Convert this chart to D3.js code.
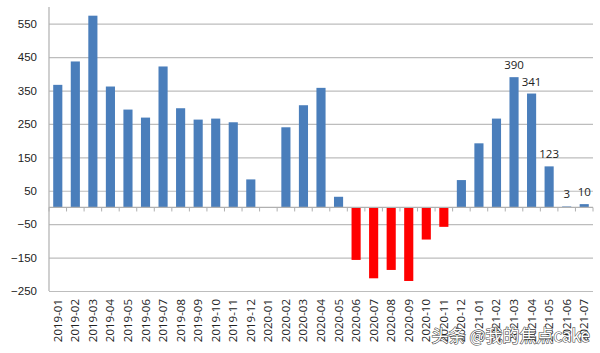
<!DOCTYPE html>
<html>
<head>
<meta charset="utf-8">
<script src="https://cdn.jsdelivr.net/npm/d3@7"></script>
<style>
  body { margin: 0; background: #fff; }
  svg { display: block; }
</style>
</head>
<body>
<div id="chart"></div>
<script>
// monthly values, 2019-01 .. 2021-07
var months = ["2019-01","2019-02","2019-03","2019-04","2019-05","2019-06","2019-07","2019-08",
  "2019-09","2019-10","2019-11","2019-12","2020-01","2020-02","2020-03","2020-04","2020-05",
  "2020-06","2020-07","2020-08","2020-09","2020-10","2020-11","2020-12","2021-01","2021-02",
  "2021-03","2021-04","2021-05","2021-06","2021-07"];
var values = [367, 437, 574, 362, 293, 269, 422, 297, 263, 266, 255, 84, 0, 240, 306, 358, 32,
  -157, -212, -187, -220, -96, -58, 82, 192, 266, 390, 341, 123, 3, 10];
var labelled = ["2021-03","2021-04","2021-05","2021-06","2021-07"];
var yTicks = [-250, -150, -50, 50, 150, 250, 350, 450, 550];

var W = 600, H = 353;
var margin = {top: 7, right: 7, bottom: 62, left: 49};
var width = W - margin.left - margin.right;
var height = H - margin.top - margin.bottom;

var svg = d3.select("#chart").append("svg")
    .attr("width", W)
    .attr("height", H)
    .style("font-family", "'Open Sans', sans-serif");

var g = svg.append("g")
    .attr("transform", "translate(" + margin.left + "," + margin.top + ")");

var x = d3.scaleBand().domain(months).range([0, width]).paddingInner(0.48).paddingOuter(0.24);
var y = d3.scaleLinear().domain([-250, 600]).range([height, 0]);
var step = x.step();

// gridlines + y labels
var yAxis = d3.axisLeft(y).tickValues(yTicks).tickSize(-width).tickPadding(12);
g.append("g")
    .call(yAxis)
    .call(function(a) {
      a.select(".domain").remove();
      a.selectAll("line").attr("stroke", "#bdbdbd").attr("stroke-width", 1.2);
      a.selectAll("text").attr("fill", "#222").style("font-size", "11.5px");
    });

// y axis line
g.append("line")
    .attr("x1", 0).attr("x2", 0)
    .attr("y1", 0).attr("y2", height)
    .attr("stroke", "#b0b0b0").attr("stroke-width", 1.2);

// bars
g.selectAll("rect.bar").data(values).enter().append("rect")
    .attr("class", "bar")
    .attr("x", function(d, i) { return x(months[i]); })
    .attr("width", x.bandwidth())
    .attr("y", function(d) { return y(Math.max(0, d)); })
    .attr("height", function(d) { return Math.abs(y(d) - y(0)); })
    .attr("fill", function(d) { return d < 0 ? "#ff0000" : "#4a7ebb"; });

// category axis on zero line
g.append("line")
    .attr("x1", 0).attr("x2", width)
    .attr("y1", y(0)).attr("y2", y(0))
    .attr("stroke", "#b0b0b0").attr("stroke-width", 1.2);
g.selectAll("line.tick-x").data(months.concat(["end"])).enter().append("line")
    .attr("class", "tick-x")
    .attr("x1", function(d, i) { return i * step; })
    .attr("x2", function(d, i) { return i * step; })
    .attr("y1", y(0)).attr("y2", y(0) + 4)
    .attr("stroke", "#b0b0b0").attr("stroke-width", 1);

// x labels, rotated
g.selectAll("text.xl").data(months).enter().append("text")
    .attr("class", "xl")
    .attr("transform", function(d) {
      return "translate(" + (x(d) + x.bandwidth() / 2 + 4) + "," + (height + 8) + ") rotate(-90)";
    })
    .attr("text-anchor", "end")
    .attr("fill", "#222")
    .style("font-size", "11.5px")
    .text(function(d) { return d; });

// value labels
g.selectAll("text.vl").data(values).enter()
    .filter(function(d, i) { return labelled.indexOf(months[i]) >= 0; })
    .append("text")
    .attr("class", "vl")
    .attr("x", function(d, i) { return x(labelled[i]) + x.bandwidth() / 2; })
    .attr("y", function(d) { return y(d) - 8; })
    .attr("text-anchor", "middle")
    .attr("fill", "#222")
    .style("font-size", "11.5px")
    .text(function(d) { return d; });

// watermark
svg.append("text")
    .attr("x", 590).attr("y", 342)
    .attr("text-anchor", "end")
    .attr("fill", "#fff")
    .attr("stroke", "#444")
    .attr("stroke-width", 1.1)
    .attr("paint-order", "stroke")
    .style("font-family", "'Noto Sans CJK SC', sans-serif")
    .style("font-size", "17px")
    .text("头条 @我的焦点cake");
</script>
</body>
</html>
